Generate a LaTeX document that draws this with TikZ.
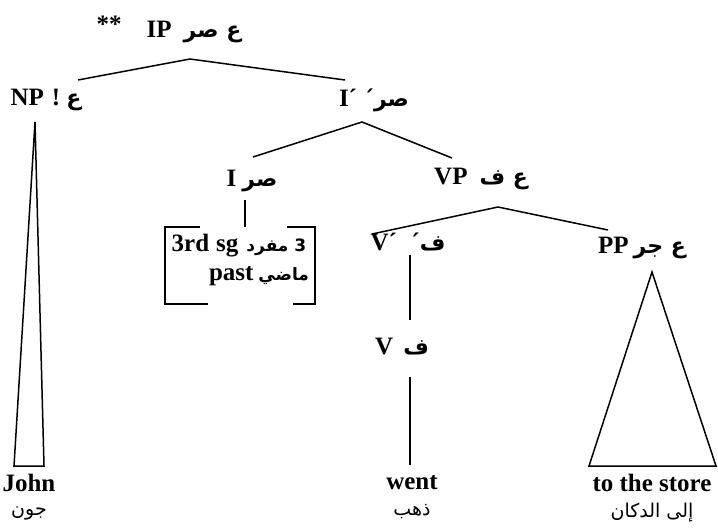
\documentclass[tikz,border=0pt]{standalone}
\usepackage{fontspec}
\setmainfont{Liberation Serif}
\newfontfamily\arabicfont[Script=Arabic]{DejaVu Sans}
\TeXXeTstate=1
\newcommand{\arb}[1]{{\arabicfont\fontsize{22}{25}\selectfont\bfseries\beginR #1\endR}}
\newcommand{\arbs}[1]{{\arabicfont\fontsize{17}{20}\selectfont\bfseries\beginR #1\endR}}
\newcommand{\argl}[1]{{\arabicfont\fontsize{19}{22}\selectfont\mdseries\beginR #1\endR}}
\begin{document}
\begin{tikzpicture}[x=1pt,y=-1pt,
  lbl/.style={inner sep=0pt,font=\fontsize{25}{30}\selectfont\bfseries},
  word/.style={inner sep=0pt,font=\fontsize{25}{30}\selectfont\bfseries},
  gloss/.style={inner sep=0pt},
  br/.style={line width=1.5pt},
  tri/.style={line width=1.5pt,line join=miter}]
\fill[white] (0,0) rectangle (718,530);
\useasboundingbox (0,0) rectangle (718,530);

% labels
\node[lbl] (stars) at (109,24) {**};
\node[lbl] (IP) at (194,32) {IP\hspace{12pt}\arb{ع صر}};
\node[lbl] (NP) at (46,100) {NP\hspace{8pt}!\hspace{6pt}\arb{ع}};
\node[lbl] (Ibar) at (374,100) {I´\hspace{6pt}\arb{صر´}};
\node[lbl] (I) at (252,181) {I\hspace{6pt}\arb{صر}};
\node[lbl] (VP) at (481,179) {VP\hspace{12pt}\arb{ع ف}};
\node[lbl] (Vbar) at (408,242) {V´\hspace{12pt}\arb{ف´}};
\node[lbl] (V) at (402,347) {V\hspace{10pt}\arb{ف}};
\node[lbl] (PP) at (642,248) {PP\hspace{5pt}\arb{ع جر}};

% feature box
\node[lbl] (feat1) at (239,246) {3rd\hspace{7pt}sg\hspace{8pt}\arbs{3 مفرد}};
\node[lbl] (feat2) at (259,276) {past\hspace{5pt}\arbs{ماضي}};

% leaves
\node[word] (john) at (29,483) {John};
\node[gloss] (johnA) at (29,513) {\argl{جون}};
\node[word] (went) at (412,483) {went};
\node[gloss] (wentA) at (412,512) {\argl{ذهب}};
\node[word] (store) at (652,483) {to the store};
\node[gloss] (storeA) at (652,513) {\argl{إلى الدكان}};

% branch coordinates
\coordinate (IPt) at (190,59);
\coordinate (IPl) at (78,80);
\coordinate (IPr) at (345,80);
\coordinate (Ibt) at (362,122);
\coordinate (Ibl) at (253,157);
\coordinate (Ibr) at (452,158);
\coordinate (It) at (245,200);
\coordinate (Ib) at (245,227);
\coordinate (VPt) at (498,207);
\coordinate (VPl) at (372,234);
\coordinate (VPr) at (608,230);
\coordinate (Vbt) at (410,255);
\coordinate (Vbb) at (410,320);
\coordinate (Vt) at (410,377);
\coordinate (Vb) at (410,465);
\coordinate (NPt) at (35,122);
\coordinate (NPl) at (14,466);
\coordinate (NPr) at (44,466);
\coordinate (PPt) at (652,272);
\coordinate (PPl) at (589,466);
\coordinate (PPr) at (716,466);

\draw[br] (IPl) -- (IPt) -- (IPr);
\draw[br] (Ibl) -- (Ibt) -- (Ibr);
\draw[br] (It) -- (Ib);
\draw[br] (VPl) -- (VPt) -- (VPr);
\draw[br] (Vbt) -- (Vbb);
\draw[br] (Vt) -- (Vb);
\draw[tri] (NPt) -- (NPl) -- (NPr) -- cycle;
\draw[tri] (PPt) -- (PPl) -- (PPr) -- cycle;

% brackets
\draw[br] (200,227) -- (165,227) -- (165,304) -- (208,304);
\draw[br] (287,227) -- (315,227) -- (315,304) -- (293,304);
\end{tikzpicture}
\end{document}
